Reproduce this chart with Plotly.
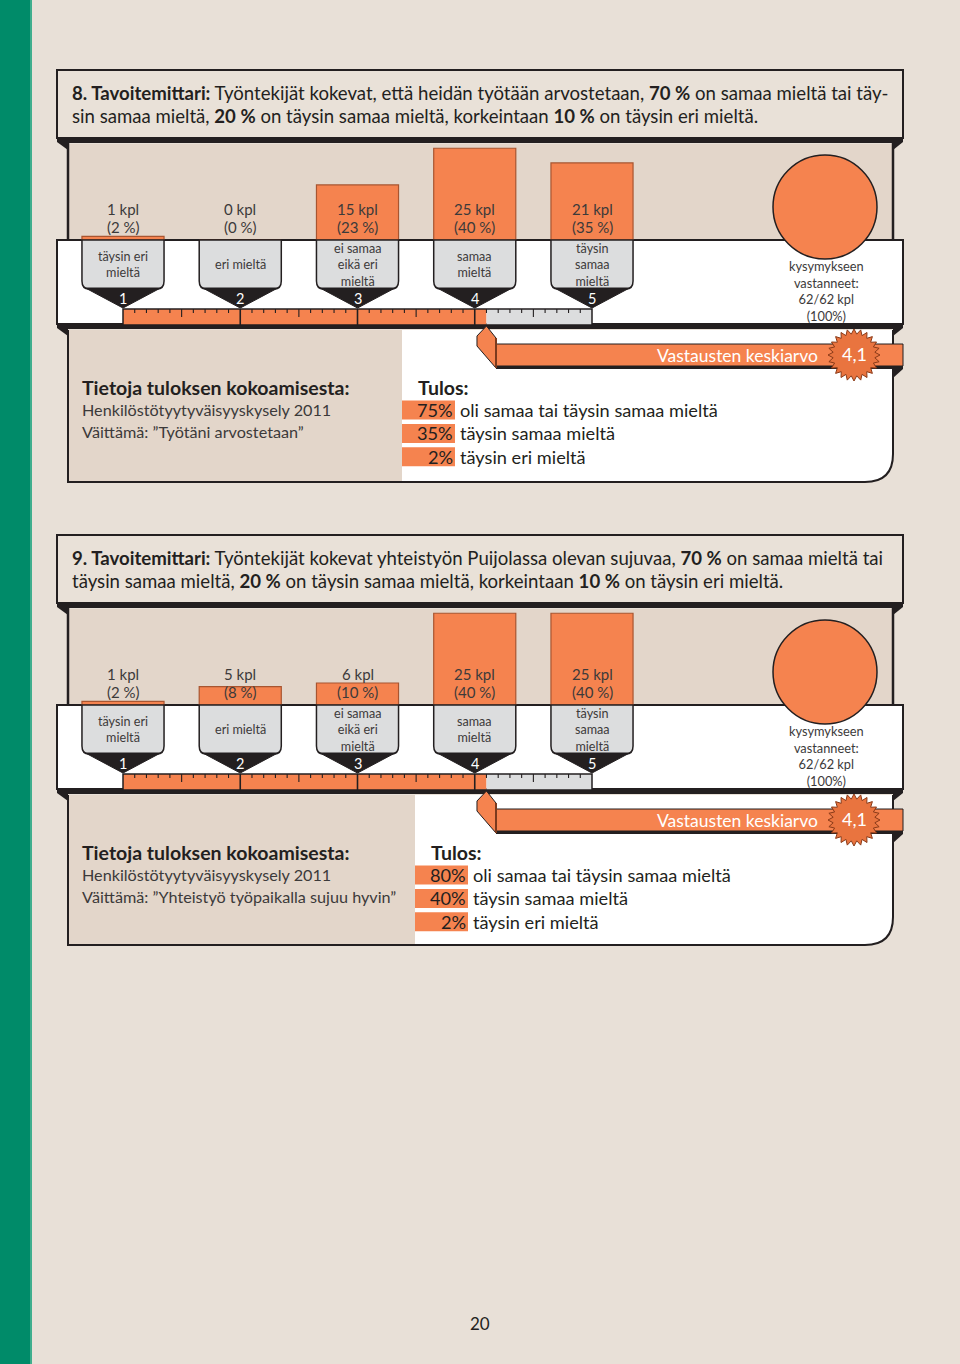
import plotly.graph_objects as go
import numpy as np

# ---------------- data ----------------
scale_points = [1, 2, 3, 4, 5]
category_labels = ["täysin eri<br>mieltä", "eri mieltä", "ei samaa<br>eikä eri<br>mieltä",
                   "samaa<br>mieltä", "täysin<br>samaa<br>mieltä"]
counts_q8 = [1, 0, 15, 25, 21]
percents_q8 = [2, 0, 23, 40, 35]
counts_q9 = [1, 5, 6, 25, 25]
percents_q9 = [2, 8, 10, 40, 40]
mean_q8 = 4.1
mean_q9 = 4.1
respondents_q8 = [62, 62, 100]
respondents_q9 = [62, 62, 100]
result_labels = ["oli samaa tai täysin samaa mieltä", "täysin samaa mieltä", "täysin eri mieltä"]
results_q8 = [75, 35, 2]
results_q9 = [80, 40, 2]
title_q8 = ["<b>8. Tavoitemittari:</b> Työntekijät kokevat, että heidän työtään arvostetaan, <b>70 %</b> on samaa mieltä tai täy-",
            "sin samaa mieltä, <b>20 %</b> on täysin samaa mieltä, korkeintaan <b>10 %</b> on täysin eri mieltä."]
title_q9 = ["<b>9. Tavoitemittari:</b> Työntekijät kokevat yhteistyön Puijolassa olevan sujuvaa, <b>70 %</b> on samaa mieltä tai",
            "täysin samaa mieltä, <b>20 %</b> on täysin samaa mieltä, korkeintaan <b>10 %</b> on täysin eri mieltä."]
source_q8 = ["Henkilöstötyytyväisyyskysely 2011", "Väittämä: ”Työtäni arvostetaan”"]
source_q9 = ["Henkilöstötyytyväisyyskysely 2011", "Väittämä: ”Yhteistyö työpaikalla sujuu hyvin”"]
page_number = "20"

# ---------------- style / layout ----------------
W, H = 960, 1364
X1_PX, STEP_PX = 123, 117.25          # pixel position of scale point 1 and spacing
PX_PER_KPL = 3.67
FONT = "Lato, 'Open Sans', sans-serif"
ORANGE = "#F5834F"
BROWN = "#A85530"
GREY = "#DCDDDE"
DARK = "#231F20"
PAGE = "#E8E0D7"
AREA = "#E3D6CA"
HEADER = "#E9E1D8"
TEXTC = "#3C3A3A"


def P(px):
    return 1 + (px - X1_PX) / STEP_PX


shapes, annotations = [], []


def rect(x0, y0, x1, y1, fill, line=None, lw=0, layer="above", units=False):
    shapes.append(dict(type="rect", xref="x", yref="y",
                       x0=x0 if units else P(x0), x1=x1 if units else P(x1), y0=y0, y1=y1,
                       fillcolor=fill, line=dict(color=line or "rgba(0,0,0,0)", width=lw), layer=layer))


def path(d, fill, line=None, lw=0, layer="above"):
    shapes.append(dict(type="path", xref="x", yref="y", path=d, fillcolor=fill,
                       line=dict(color=line or "rgba(0,0,0,0)", width=lw), layer=layer))


def poly(pts, fill, line=None, lw=0, layer="above", units=False):
    d = "M " + " L ".join(f"{(x if units else P(x)):.5f},{y:.2f}" for x, y in pts) + " Z"
    path(d, fill, line, lw, layer)


def seg(x0, y0, x1, y1, color, w, layer="above", units=False):
    shapes.append(dict(type="line", xref="x", yref="y",
                       x0=x0 if units else P(x0), x1=x1 if units else P(x1), y0=y0, y1=y1,
                       line=dict(color=color, width=w), layer=layer))


def text(x, y, s, size, color=DARK, xanchor="center", units=False, family=FONT):
    annotations.append(dict(x=x if units else P(x), y=y, xref="x", yref="y", text=s, showarrow=False,
                            xanchor=xanchor, yanchor="middle", borderpad=0,
                            font=dict(family=family, size=size, color=color)))


def fold(yb):
    poly([(57, yb), (903, yb), (903, yb + 5), (893, yb + 13), (893, yb + 6),
          (68, yb + 6), (68, yb + 13), (57, yb + 5)], DARK, layer="below")


# page stripe
rect(0, 0, 30, H, "#008B69", layer="below")
rect(30, 0, 32, H, "#3FAE8D", layer="below")

fig = go.Figure()
fig.add_trace(go.Scatter(x=[P(0)], y=[0], mode="markers", marker=dict(opacity=0),
                         hoverinfo="skip", showlegend=False, xaxis="x", yaxis="y"))


def panel(dy, counts, percents, mean, resp, results, title, source, wx, yax, bottom):
    # header
    rect(57, 70 + dy, 903, 138 + dy, HEADER, DARK, 2, "below")
    fold(137 + dy)
    text(71, 93 + dy, title[0], 18.6, xanchor="left")
    text(71, 116 + dy, title[1], 18.6, xanchor="left")
    # bar area
    rect(68, 144 + dy, 893, 240 + dy, AREA, layer="below")
    seg(68, 142 + dy, 68, 240 + dy, DARK, 2.5, "below")
    seg(893, 142 + dy, 893, 240 + dy, DARK, 2.5, "below")
    # white strip
    rect(57, 240 + dy, 903, 324 + dy, "white", DARK, 2, "below")
    fold(323 + dy)
    # bottom section
    rect(68, 330 + dy, wx, bottom, AREA, layer="below")
    r = 28
    path(f"M {P(wx)},{330 + dy} L {P(893)},{330 + dy} L {P(893)},{bottom - r} "
         f"Q {P(893)},{bottom} {P(893 - r)},{bottom} L {P(wx)},{bottom} Z", "white", layer="below")
    path(f"M {P(68)},{330 + dy} L {P(68)},{bottom} L {P(893 - r)},{bottom} "
         f"Q {P(893)},{bottom} {P(893)},{bottom - r} L {P(893)},{330 + dy}", "rgba(0,0,0,0)", DARK, 2)

    # bars
    fig.add_trace(go.Bar(x=scale_points, y=counts, xaxis="x", yaxis=yax, width=0.70,
                         marker=dict(color=ORANGE, line=dict(color=BROWN, width=1.2)),
                         hoverinfo="skip", showlegend=False))
    for p, c, pc in zip(scale_points, counts, percents):
        text(p, 209 + dy, f"{c} kpl", 15, TEXTC, units=True)
        text(p, 227 + dy, f"({pc} %)", 15, TEXTC, units=True)

    # category boxes
    hw = 0.35
    for p, lab in zip(scale_points, category_labels):
        y0 = 240 + dy
        d = (f"M {p - hw},{y0} L {p + hw},{y0} L {p + hw},{y0 + 41} Q {p + hw},{y0 + 49} {p + hw - 0.06},{y0 + 49} "
             f"L {p - hw + 0.06},{y0 + 49} Q {p - hw},{y0 + 49} {p - hw},{y0 + 41} Z")
        path(d, GREY, DARK, 1.5)
        d2 = (f"M {p - hw + 0.03},{y0 + 48} L {p + hw - 0.03},{y0 + 48} L {p},{y0 + 68} Z")
        path(d2, DARK, DARK, 1)
        text(p, 264.5 + dy, lab, 12.6, TEXTC, units=True)
        text(p, 298.5 + dy, str(p), 14.5, "white", units=True)

    # ruler
    ry0, ry1 = 309 + dy, 325 + dy
    rect(1, ry0, mean, ry1, ORANGE, units=True)
    rect(mean, ry0, 5, ry1, GREY, units=True)
    for k in range(1, 40):
        t = 1 + k * 0.1
        if k % 10 == 0:
            seg(t, ry0, t, ry1, DARK, 1.6, units=True)
        else:
            ln = 8 if k % 5 == 0 else 4
            seg(t, ry0, t, ry0 + ln, DARK, 1.1, units=True)
    rect(1, ry0, 5, ry1, "rgba(0,0,0,0)", DARK, 1.5, units=True)

    # mean ribbon
    w = 9.5 / STEP_PX
    poly([(mean + w, 344 + dy), (P(903), 344 + dy), (P(903), 366 + dy), (mean + w, 366 + dy)],
         ORANGE, DARK, 1, units=True)
    poly([(mean + w, 366 + dy), (P(903), 366 + dy), (P(903), 369 + dy), (mean + w, 369 + dy)],
         DARK, units=True)
    poly([(P(893), 369 + dy), (P(903), 369 + dy), (P(893), 378 + dy)], DARK, units=True)
    poly([(mean, 326 + dy), (mean + w, 338 + dy), (mean + w, 368 + dy), (mean - w, 346 + dy), (mean - w, 336 + dy)],
         ORANGE, DARK, 1, units=True)
    seg(mean + w, 338 + dy, mean + w, 368 + dy, "#7A3A1E", 2, units=True)
    text(819, 355 + dy, "Vastausten keskiarvo", 17.5, "white", xanchor="right")
    # star badge
    cx, cy = 854, 355 + dy
    pts = []
    nsp = 24
    for k in range(2 * nsp):
        ang = np.pi * k / nsp - np.pi / 2
        rr = 26 if k % 2 == 0 else 21
        pts.append((cx + rr * np.cos(ang), cy + rr * np.sin(ang)))
    poly(pts, "#E9743F", "#8A3A18", 1)
    text(cx, cy - 1, f"{mean:.1f}".replace(".", ","), 18, "white")

    # respondents circle
    shapes.append(dict(type="circle", xref="x", yref="y", x0=P(773), x1=P(877), y0=155 + dy, y1=259 + dy,
                       fillcolor=ORANGE, line=dict(color=DARK, width=1.5), layer="above"))
    resp_text = "<br>".join(["kysymykseen", "vastanneet:", f"{resp[0]}/{resp[1]} kpl", f"({resp[2]}%)"])
    text(826, 290.5 + dy, resp_text, 12.8, TEXTC)

    # bottom texts
    text(81, 387 + dy, "<b>Tietoja tuloksen kokoamisesta:</b>", 19.5, xanchor="left")
    text(81, 409 + dy, source[0], 16.2, TEXTC, xanchor="left")
    text(81, 431 + dy, source[1], 16.2, TEXTC, xanchor="left")
    text(wx + 15, 387 + dy, "<b>Tulos:</b>", 19.5, xanchor="left")
    for j, (v, lab) in enumerate(zip(results, result_labels)):
        yy = 410 + dy + 23.4 * j
        rect(wx, yy - 9.5, wx + 53, yy + 9.5, ORANGE)
        text(wx + 52, yy, f"{v}%", 18.2, DARK, xanchor="right")
        text(wx + 57, yy, lab, 18.2, DARK, xanchor="left")


panel(0, counts_q8, percents_q8, mean_q8, respondents_q8, results_q8, title_q8, source_q8, 402, "y2", 482)
panel(465, counts_q9, percents_q9, mean_q9, respondents_q9, results_q9, title_q9, source_q9, 415, "y3", 945)

text(480, 1323, page_number, 17, DARK)

area_h = 97
fig.update_layout(
    width=W, height=H, margin=dict(l=0, r=0, t=0, b=0),
    paper_bgcolor=PAGE, plot_bgcolor="rgba(0,0,0,0)",
    showlegend=False, shapes=shapes, annotations=annotations, bargap=0,
    xaxis=dict(domain=[0, 1], range=[P(0), P(W)], visible=False, fixedrange=True, anchor="y"),
    yaxis=dict(domain=[0, 1], range=[H, 0], visible=False, fixedrange=True, anchor="x"),
    yaxis2=dict(domain=[1 - 240 / H, 1 - (240 - area_h) / H], range=[0, area_h / PX_PER_KPL],
                visible=False, fixedrange=True, anchor="x"),
    yaxis3=dict(domain=[1 - 705 / H, 1 - (705 - area_h) / H], range=[0, area_h / PX_PER_KPL],
                visible=False, fixedrange=True, anchor="x"),
)
fig.write_html("out.html", config={"displayModeBar": False, "staticPlot": True},
               post_script="document.body.style.margin='0px';document.body.style.overflow='hidden';")
